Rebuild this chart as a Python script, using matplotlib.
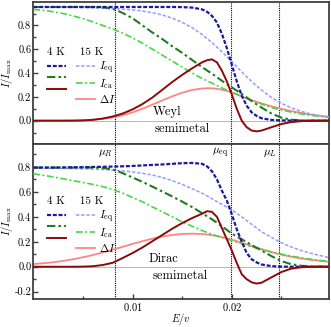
import numpy as np
import matplotlib
matplotlib.use("Agg")
import matplotlib.pyplot as plt

plt.rcParams.update({
    "font.family": "serif",
    "font.serif": ["cmr10", "DejaVu Serif"],
    "mathtext.fontset": "cm",
    "axes.formatter.use_mathtext": True,
    "font.size": 7.5,
})

# energy grid E/v (denser around the Fermi step)
E = [0.000, 0.001, 0.002, 0.003, 0.004, 0.005, 0.006, 0.007, 0.008, 0.009,
     0.010, 0.011, 0.012, 0.013, 0.014, 0.015, 0.016, 0.017, 0.0175, 0.018,
     0.0185, 0.019, 0.0195, 0.020, 0.0205, 0.021, 0.0215, 0.022, 0.0225, 0.023,
     0.024, 0.025, 0.026, 0.027, 0.028, 0.029, 0.030]

# chemical potentials
mu_vals = [0.0082, 0.0199, 0.0248]
mu_labels = [r"$\mu_R$", r"$\mu_{\rm eq}$", r"$\mu_L$"]

# --- Weyl semimetal ---
weyl_eq_4K = [0.955, 0.955, 0.955, 0.955, 0.955, 0.955, 0.955, 0.955, 0.955, 0.955,
              0.955, 0.955, 0.955, 0.955, 0.955, 0.954, 0.95, 0.935, 0.915, 0.88,
              0.825, 0.73, 0.61, 0.47, 0.33, 0.21, 0.125, 0.07, 0.04, 0.02,
              0.006, 0.002, 0.001, 0.0, 0.0, 0.0, 0.0]
weyl_eq_15K = [0.954, 0.954, 0.953, 0.953, 0.952, 0.951, 0.949, 0.946, 0.942, 0.937,
               0.931, 0.921, 0.907, 0.888, 0.861, 0.826, 0.781, 0.723, 0.69, 0.656,
               0.618, 0.579, 0.537, 0.495, 0.452, 0.41, 0.369, 0.329, 0.292, 0.257,
               0.195, 0.146, 0.107, 0.078, 0.055, 0.039, 0.028]
weyl_ca_4K = [0.955, 0.955, 0.955, 0.955, 0.955, 0.955, 0.955, 0.952, 0.94, 0.905,
              0.86, 0.80, 0.74, 0.685, 0.625, 0.57, 0.51, 0.45, 0.422, 0.395,
              0.365, 0.335, 0.307, 0.28, 0.252, 0.225, 0.195, 0.165, 0.137, 0.11,
              0.06, 0.025, 0.008, 0.002, 0.0, 0.0, 0.0]
weyl_ca_15K = [0.935, 0.927, 0.915, 0.90, 0.88, 0.857, 0.83, 0.80, 0.77, 0.735,
               0.695, 0.65, 0.60, 0.55, 0.50, 0.45, 0.40, 0.355, 0.335, 0.315,
               0.295, 0.275, 0.257, 0.24, 0.222, 0.205, 0.188, 0.17, 0.155, 0.14,
               0.11, 0.09, 0.072, 0.057, 0.045, 0.035, 0.027]
weyl_dI_4K = [0.0, 0.0, 0.0, 0.0, 0.0, 0.002, 0.007, 0.018, 0.035, 0.06,
              0.095, 0.14, 0.195, 0.26, 0.325, 0.385, 0.44, 0.49, 0.508, 0.515,
              0.49, 0.42, 0.33, 0.22, 0.10, 0.0, -0.055, -0.083, -0.09, -0.083,
              -0.055, -0.028, -0.012, -0.004, -0.001, 0.0, 0.0]
weyl_dI_15K = [0.0, 0.0, 0.0, 0.0, 0.002, 0.004, 0.008, 0.015, 0.027, 0.045,
               0.07, 0.10, 0.135, 0.17, 0.205, 0.235, 0.258, 0.27, 0.273, 0.272,
               0.268, 0.26, 0.25, 0.237, 0.22, 0.203, 0.187, 0.172, 0.158, 0.145,
               0.12, 0.10, 0.08, 0.065, 0.05, 0.04, 0.03]

# --- Dirac semimetal ---
dirac_eq_4K = [0.795, 0.795, 0.795, 0.796, 0.797, 0.798, 0.80, 0.801, 0.803, 0.805,
               0.808, 0.812, 0.816, 0.82, 0.825, 0.83, 0.832, 0.825, 0.805, 0.765,
               0.70, 0.61, 0.53, 0.42, 0.30, 0.20, 0.11, 0.06, 0.035, 0.018,
               0.005, 0.001, 0.0, 0.0, 0.0, 0.0, 0.0]
dirac_eq_15K = [0.79, 0.79, 0.789, 0.788, 0.787, 0.785, 0.782, 0.779, 0.775, 0.768,
                0.76, 0.749, 0.735, 0.715, 0.69, 0.66, 0.625, 0.59, 0.568, 0.545,
                0.522, 0.50, 0.477, 0.455, 0.428, 0.40, 0.37, 0.34, 0.31, 0.28,
                0.235, 0.192, 0.158, 0.13, 0.107, 0.088, 0.07]
dirac_ca_4K = [0.795, 0.795, 0.795, 0.795, 0.795, 0.795, 0.795, 0.792, 0.78, 0.75,
               0.715, 0.68, 0.642, 0.603, 0.563, 0.522, 0.478, 0.43, 0.405, 0.38,
               0.353, 0.325, 0.295, 0.265, 0.243, 0.22, 0.197, 0.175, 0.152, 0.13,
               0.085, 0.045, 0.02, 0.008, 0.003, 0.001, 0.0]
dirac_ca_15K = [0.745, 0.733, 0.72, 0.705, 0.69, 0.675, 0.66, 0.642, 0.62, 0.59,
                0.555, 0.52, 0.48, 0.44, 0.40, 0.36, 0.325, 0.29, 0.275, 0.26,
                0.247, 0.235, 0.222, 0.21, 0.197, 0.185, 0.172, 0.16, 0.15, 0.14,
                0.118, 0.10, 0.085, 0.072, 0.06, 0.05, 0.042]
dirac_dI_4K = [0.0, 0.0, 0.0, 0.0, 0.0, 0.001, 0.004, 0.014, 0.032, 0.07,
               0.11, 0.155, 0.205, 0.255, 0.305, 0.35, 0.39, 0.425, 0.445, 0.44,
               0.40, 0.31, 0.22, 0.13, 0.03, -0.06, -0.10, -0.125, -0.135, -0.128,
               -0.085, -0.042, -0.015, -0.004, -0.001, 0.0, 0.0]
dirac_dI_15K = [0.022, 0.028, 0.036, 0.047, 0.06, 0.076, 0.094, 0.115, 0.137, 0.16,
                0.183, 0.205, 0.225, 0.242, 0.255, 0.263, 0.265, 0.262, 0.258, 0.253,
                0.246, 0.238, 0.228, 0.217, 0.205, 0.192, 0.179, 0.166, 0.153, 0.141,
                0.117, 0.097, 0.08, 0.066, 0.055, 0.046, 0.038]

panels = [
    dict(eq4=weyl_eq_4K, eq15=weyl_eq_15K, ca4=weyl_ca_4K, ca15=weyl_ca_15K,
         d4=weyl_dI_4K, d15=weyl_dI_15K, name=("Weyl", "semimetal"),
         ylim=(-0.145, 1.0), yticks=[0.0, 0.2, 0.4, 0.6, 0.8],
         name_pos=((0.01348, 0.077), (0.0150, -0.066))),
    dict(eq4=dirac_eq_4K, eq15=dirac_eq_15K, ca4=dirac_ca_4K, ca15=dirac_ca_15K,
         d4=dirac_dI_4K, d15=dirac_dI_15K, name=("Dirac", "semimetal"),
         ylim=(-0.255, 0.98), yticks=[-0.2, 0.0, 0.2, 0.4, 0.6, 0.8],
         name_pos=((0.01308, 0.064), (0.0148, -0.077))),
]

# colours / styles
c_eq4, c_eq15 = "#1a1a9c", "#9a9aff"
c_ca4, c_ca15 = "#1f7d1f", "#45d845"
c_d4, c_d15 = "#8b0a0a", "#ff8585"
spine_col = "#404040"

fig = plt.figure(figsize=(3.31, 3.27), dpi=100)
gs = fig.add_gridspec(2, 1, height_ratios=[1.145, 1.235], hspace=0,
                      left=0.101, right=0.994, top=0.995, bottom=0.087)
axes = [fig.add_subplot(gs[0]), fig.add_subplot(gs[1])]

for k, (ax, p) in enumerate(zip(axes, panels)):
    ax.axhline(0, color="#b8b8b8", lw=0.7, zorder=0)
    for m in mu_vals:
        ax.axvline(m, color="black", lw=0.8, ls=(0, (1, 1)), zorder=1)

    l_d15, = ax.plot(E, p["d15"], color=c_d15, lw=1.3, zorder=2)
    l_ca15, = ax.plot(E, p["ca15"], color=c_ca15, lw=1.2, dashes=(4, 1.5, 1.2, 1.5), zorder=3)
    l_eq15, = ax.plot(E, p["eq15"], color=c_eq15, lw=1.1, dashes=(2.2, 1.2), zorder=3)
    l_ca4, = ax.plot(E, p["ca4"], color=c_ca4, lw=1.5, dashes=(4, 1.5, 1.2, 1.5), zorder=4)
    l_eq4, = ax.plot(E, p["eq4"], color=c_eq4, lw=1.6, dashes=(1.8, 0.8), zorder=5)
    l_d4, = ax.plot(E, p["d4"], color=c_d4, lw=1.4, zorder=6)

    ax.set_xlim(0, 0.0298)
    ax.set_ylim(*p["ylim"])
    ax.set_yticks(p["yticks"])
    ax.set_yticks(np.arange(-0.2, 0.95, 0.1), minor=True)
    ax.set_xticks([0.01, 0.02])
    ax.set_xticks([0.005, 0.015, 0.025], minor=True)
    ax.tick_params(which="both", direction="in", top=False, right=False,
                   color=spine_col, width=1.0)
    ax.tick_params(which="major", length=3.5, pad=1.5)
    ax.tick_params(which="minor", length=2)
    ax.yaxis.set_major_formatter(matplotlib.ticker.FormatStrFormatter("%.1f"))
    for s in ax.spines.values():
        s.set_color(spine_col)
        s.set_linewidth(1.3)
    ax.set_ylabel(r"$I/I_{\rm max}$", labelpad=0)

    (x1, y1), (x2, y2) = p["name_pos"]
    ax.text(x1, y1, p["name"][0], ha="center", va="center", fontsize=9)
    ax.text(x2, y2, p["name"][1], ha="center", va="center", fontsize=9)

    handles = [l_eq4, l_ca4, l_d4, l_eq15, l_ca15, l_d15]
    labels = ["", "", "", r"$I_{\rm eq}$", r"$I_{\rm ca}$", r"$\Delta I$"]
    ax.legend(handles, labels, ncol=2, loc="upper left",
              bbox_to_anchor=(0.02, 0.73 if k == 0 else 0.71),
              frameon=False, title="4 K    15 K", title_fontsize=8,
              alignment="left", handlelength=1.7, handletextpad=0.4,
              columnspacing=0.5, labelspacing=0.15, fontsize=8,
              borderpad=0.2)

axes[0].tick_params(axis="x", which="both", bottom=False, labelbottom=False)
for m, lab in zip(mu_vals, mu_labels):
    axes[1].text(m - 0.00026, 0.91, lab, ha="right", va="center", fontsize=8)
axes[1].set_xlabel(r"$E/v$", labelpad=-1)
fig.align_ylabels(axes)

fig.savefig("out.png", dpi=100)
